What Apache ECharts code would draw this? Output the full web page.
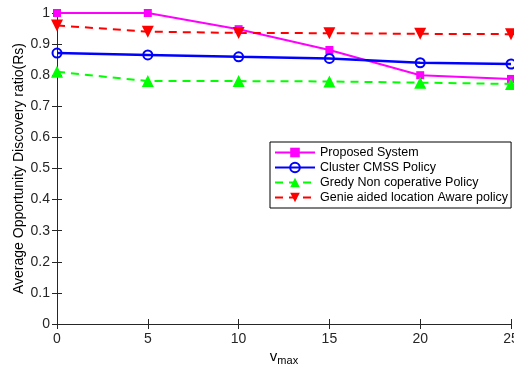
<!DOCTYPE html>
<html>
<head>
<meta charset="utf-8">
<script src="https://cdn.jsdelivr.net/npm/echarts@6/dist/echarts.min.js"></script>
<style>
    html, body { margin: 0; padding: 0; background: #fff; }
    #chart { width: 514px; height: 370px; }
</style>
</head>
<body>
<div id="chart"></div>
<script>
    // x values (v_max)
    var vmax = [0, 5, 10, 15, 20, 25];
    var proposed = [1.0, 1.0, 0.948, 0.881, 0.800, 0.788];
    var cluster = [0.871, 0.865, 0.859, 0.854, 0.840, 0.836];
    var gredy = [0.811, 0.781, 0.781, 0.780, 0.776, 0.772];
    var genie = [0.960, 0.940, 0.936, 0.935, 0.933, 0.932];
    var names = ['Proposed System', 'Cluster CMSS Policy', 'Gredy Non coperative Policy', 'Genie aided location Aware policy'];

    function pairs(ys) {
        return vmax.map(function (x, i) { return [x, ys[i]]; });
    }

    var font = 'Liberation Sans, Arial, sans-serif';
    var myChart = echarts.init(document.getElementById('chart'));
    var option = {
        animation: false,
        grid: { left: 57, right: 3, top: 13, bottom: 46, outerBoundsMode: 'none', containLabel: false },
        legend: {
            orient: 'vertical',
            left: 270,
            top: 142,
            itemWidth: 40,
            itemHeight: 12,
            itemGap: 2,
            padding: [4, 3, 4, 4],
            borderColor: '#000',
            borderWidth: 1,
            backgroundColor: '#fff',
            textStyle: { fontFamily: font, fontSize: 12.5, lineHeight: 13, color: '#000' },
            data: names
        },
        xAxis: [{
            type: 'value', min: 0, max: 25, interval: 5,
            name: '{v|v}{s|max}', nameLocation: 'middle', nameGap: 23, nameMoveOverlap: false,
            nameTextStyle: {
                rich: {
                    v: { fontFamily: font, fontSize: 15, color: '#000' },
                    s: { fontFamily: font, fontSize: 11, color: '#000', verticalAlign: 'bottom', padding: [8, 0, 0, 0] }
                }
            },
            axisLine: { lineStyle: { color: '#262626', width: 1 } },
            axisTick: { inside: true, length: 5, lineStyle: { color: '#262626' } },
            axisLabel: { fontFamily: font, fontSize: 14, color: '#262626', margin: 8 },
            splitLine: { show: false }
        }, {
            type: 'value', min: 0, max: 25, interval: 5, position: 'top',
            axisLine: { show: true, lineStyle: { color: '#262626', width: 1 } },
            axisTick: { inside: true, length: 5, lineStyle: { color: '#262626' } },
            axisLabel: { show: false },
            splitLine: { show: false }
        }],
        yAxis: [{
            type: 'value', min: 0, max: 1, interval: 0.1,
            name: 'Average Opportunity Discovery ratio(Rs)', nameLocation: 'middle', nameGap: 31, nameMoveOverlap: false,
            nameTextStyle: { fontFamily: font, fontSize: 14, color: '#000' },
            axisLine: { show: true, lineStyle: { color: '#262626', width: 1 } },
            axisTick: { show: true, inside: true, length: 5, lineStyle: { color: '#262626' } },
            axisLabel: { fontFamily: font, fontSize: 14, color: '#262626', margin: 7 },
            splitLine: { show: false }
        }, {
            type: 'value', min: 0, max: 1, interval: 0.1, position: 'right',
            axisLine: { show: true, lineStyle: { color: '#262626', width: 1 } },
            axisTick: { show: true, inside: true, length: 5, lineStyle: { color: '#262626' } },
            axisLabel: { show: false },
            splitLine: { show: false }
        }],
        series: [{
            name: names[0], type: 'line', data: pairs(proposed),
            symbol: 'rect', symbolSize: 8,
            lineStyle: { color: '#ff00ff', width: 2 },
            itemStyle: { color: '#ff00ff' }
        }, {
            name: names[1], type: 'line', data: pairs(cluster),
            symbol: 'circle', symbolSize: 9,
            lineStyle: { color: '#0000ff', width: 2.5 },
            itemStyle: { color: 'rgba(255,255,255,0)', borderColor: '#0000ff', borderWidth: 2 }
        }, {
            name: names[2], type: 'line', data: pairs(gredy),
            symbol: 'triangle', symbolSize: 12,
            lineStyle: { color: '#00ff00', width: 2, type: [8, 6] },
            itemStyle: { color: '#00ff00' }
        }, {
            name: names[3], type: 'line', data: pairs(genie),
            symbol: 'triangle', symbolRotate: 180, symbolSize: 12,
            lineStyle: { color: '#ff0000', width: 2, type: [8, 6] },
            itemStyle: { color: '#ff0000' }
        }]
    };
    myChart.setOption(option);
</script>
</body>
</html>
